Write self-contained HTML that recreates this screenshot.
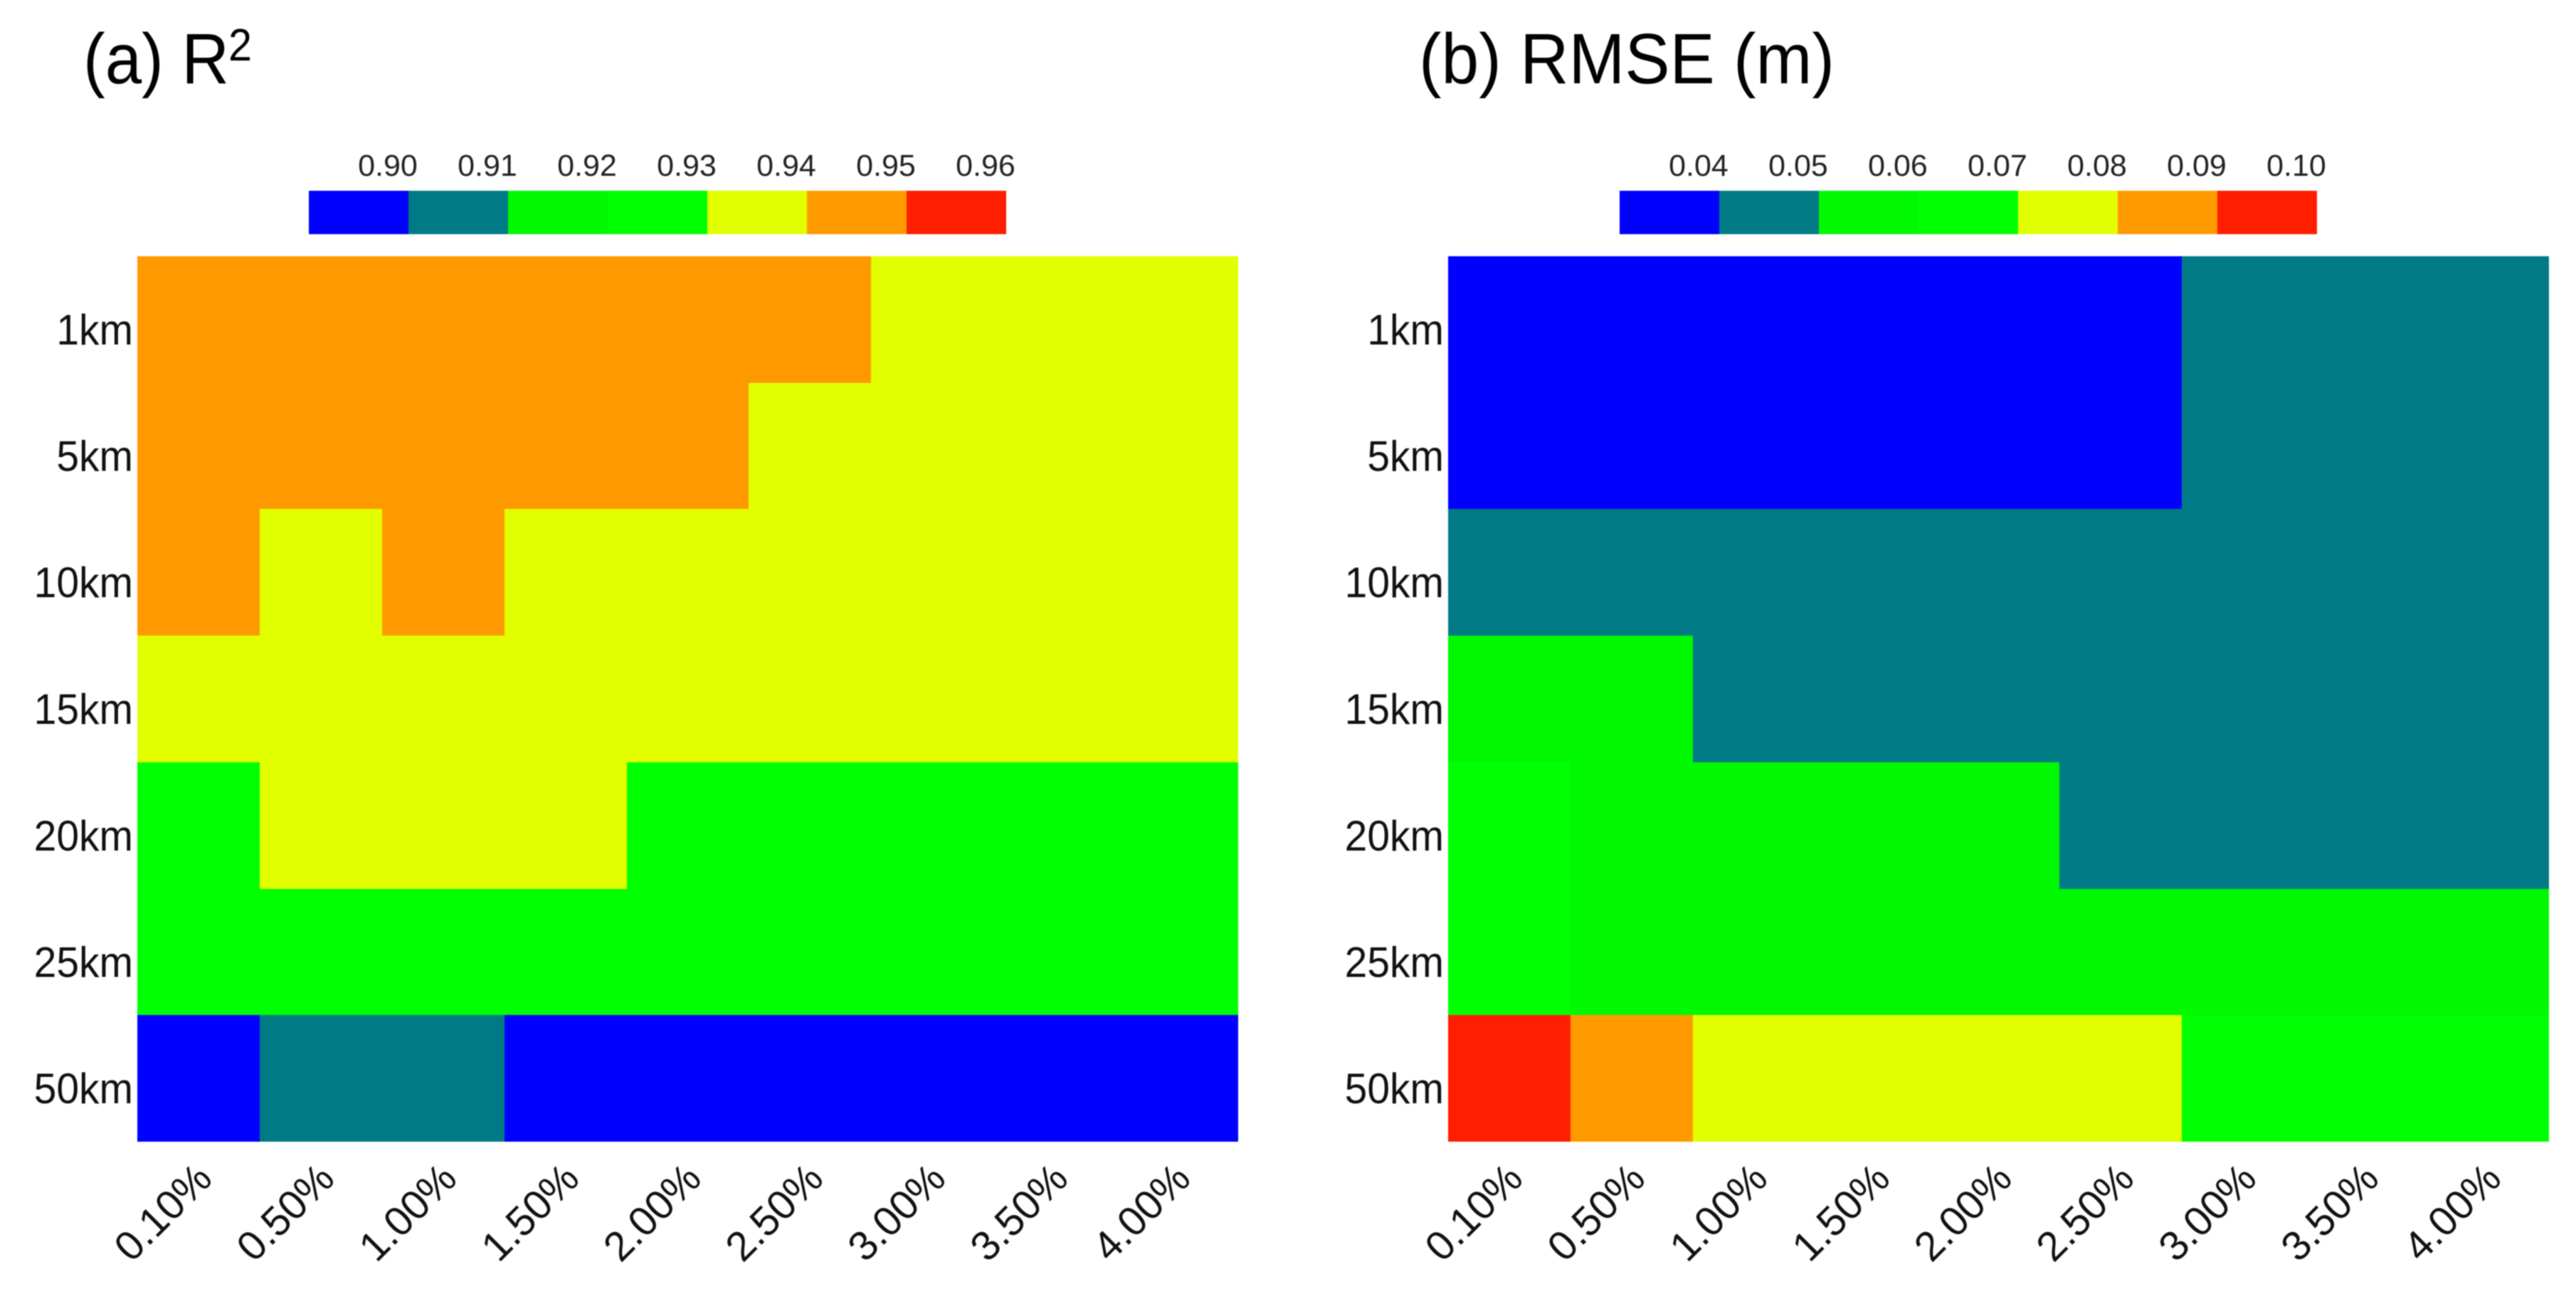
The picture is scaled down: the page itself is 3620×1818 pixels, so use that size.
<!DOCTYPE html>
<html lang="en">
<head>
<meta charset="utf-8">
<title>R2 and RMSE heatmaps</title>
<style>
  html, body { margin: 0; padding: 0; background: #ffffff; }
  body { width: 3620px; height: 1818px; overflow: hidden; }
  svg { display: block; filter: blur(0.7px); }
  text { font-family: "Liberation Sans", sans-serif; }
</style>
</head>
<body>
<svg id="figure" xmlns="http://www.w3.org/2000/svg" width="3620" height="1818" viewBox="0 0 3620 1818">
  <rect x="0" y="0" width="3620" height="1818" fill="#ffffff"/>
  <text x="117" y="117" font-size="100" fill="#000" textLength="205" lengthAdjust="spacingAndGlyphs">(a) R</text>
  <text x="321" y="85" font-size="64" fill="#000" textLength="33" lengthAdjust="spacingAndGlyphs">2</text>
  <text x="1994" y="117" font-size="100" fill="#000" textLength="584" lengthAdjust="spacingAndGlyphs">(b) RMSE (m)</text>
</svg>
<script>
const rowLabels = ['1km', '5km', '10km', '15km', '20km', '25km', '50km'];
const colLabels = ['0.10%', '0.50%', '1.00%', '1.50%', '2.00%', '2.50%', '3.00%', '3.50%', '4.00%'];
const r2Ticks = ['0.90', '0.91', '0.92', '0.93', '0.94', '0.95', '0.96'];
const rmseTicks = ['0.04', '0.05', '0.06', '0.07', '0.08', '0.09', '0.10'];
const r2Values = [
  [0.95, 0.95, 0.95, 0.95, 0.95, 0.95, 0.94, 0.94, 0.94],
  [0.95, 0.95, 0.95, 0.95, 0.95, 0.94, 0.94, 0.94, 0.94],
  [0.95, 0.94, 0.95, 0.94, 0.94, 0.94, 0.94, 0.94, 0.94],
  [0.94, 0.94, 0.94, 0.94, 0.94, 0.94, 0.94, 0.94, 0.94],
  [0.93, 0.94, 0.94, 0.94, 0.93, 0.93, 0.93, 0.93, 0.93],
  [0.93, 0.93, 0.93, 0.93, 0.93, 0.93, 0.93, 0.93, 0.93],
  [0.90, 0.91, 0.91, 0.90, 0.90, 0.90, 0.90, 0.90, 0.90]
];
const rmseValues = [
  [0.04, 0.04, 0.04, 0.04, 0.04, 0.04, 0.05, 0.05, 0.05],
  [0.04, 0.04, 0.04, 0.04, 0.04, 0.04, 0.05, 0.05, 0.05],
  [0.05, 0.05, 0.05, 0.05, 0.05, 0.05, 0.05, 0.05, 0.05],
  [0.06, 0.06, 0.05, 0.05, 0.05, 0.05, 0.05, 0.05, 0.05],
  [0.07, 0.06, 0.06, 0.06, 0.06, 0.05, 0.05, 0.05, 0.05],
  [0.07, 0.06, 0.06, 0.06, 0.06, 0.06, 0.06, 0.06, 0.06],
  [0.10, 0.09, 0.08, 0.08, 0.08, 0.08, 0.07, 0.07, 0.07]
];
const palette = ['#0000ff', '#007b85', '#00f900', '#00ff00', '#e1ff00', '#ff9900', '#ff1e00'];

const svg = document.getElementById('figure');
const NS = 'http://www.w3.org/2000/svg';
const plotTop = 360;
const plotBottom = 1604;
const plotWidth = 1547;

function make(tag, attrs, parent) {
  const el = document.createElementNS(NS, tag);
  for (const k in attrs) el.setAttribute(k, attrs[k]);
  parent.appendChild(el);
  return el;
}
function xEdge(left, i) { return Math.round(left + i * plotWidth / colLabels.length); }
function yEdge(i) { return Math.round(plotTop + i * (plotBottom - plotTop) / rowLabels.length); }
function binIndex(value, ticks) {
  const lo = parseFloat(ticks[0]);
  const hi = parseFloat(ticks[ticks.length - 1]);
  const idx = Math.round((value - lo) / (hi - lo) * (ticks.length - 1));
  return Math.max(0, Math.min(ticks.length - 1, idx));
}

function drawPanel(key, left, barLeft, values, ticks) {
  const group = make('g', {}, svg);
  
  

  values.forEach(function (row, r) {
    row.forEach(function (value, c) {
      const cell = make('rect', {
        x: xEdge(left, c),
        y: yEdge(r),
        width: xEdge(left, c + 1) - xEdge(left, c),
        height: yEdge(r + 1) - yEdge(r),
        fill: palette[binIndex(value, ticks)],
        'shape-rendering': 'crispEdges'
      }, group);
      
      
    });
  });

  ticks.forEach(function (tick, i) {
    const swatch = make('rect', {
      x: barLeft + i * 140,
      y: 268,
      width: 140,
      height: 61,
      fill: palette[i],
      'shape-rendering': 'crispEdges'
    }, group);
    
    

    const tickText = make('text', {
      x: barLeft + i * 140 + 111,
      y: 247,
      'font-size': 43,
      fill: '#222',
      'text-anchor': 'middle'
    }, group);
    tickText.textContent = tick;
    
    
  });

  rowLabels.forEach(function (label, r) {
    const ry = (yEdge(r) + yEdge(r + 1)) / 2 + 35;
    const rowText = make('text', {
      x: 0,
      y: 0,
      'font-size': 60,
      fill: '#111',
      'text-anchor': 'end',
      transform: 'translate(' + (left - 6) + ' ' + ry + ') scale(0.95 1)'
    }, group);
    rowText.textContent = label;
    
    
  });

  colLabels.forEach(function (label, c) {
    const ex = (xEdge(left, c) + xEdge(left, c + 1)) / 2 + 22;
    const ey = 1659;
    const colText = make('text', {
      x: ex,
      y: ey,
      'font-size': 58,
      fill: '#111',
      'text-anchor': 'end',
      transform: 'rotate(-45 ' + ex + ' ' + ey + ')'
    }, group);
    colText.textContent = label;
    
    
  });
}

drawPanel('r2', 193, 434, r2Values, r2Ticks);
drawPanel('rmse', 2035, 2276, rmseValues, rmseTicks);
</script>
</body>
</html>
